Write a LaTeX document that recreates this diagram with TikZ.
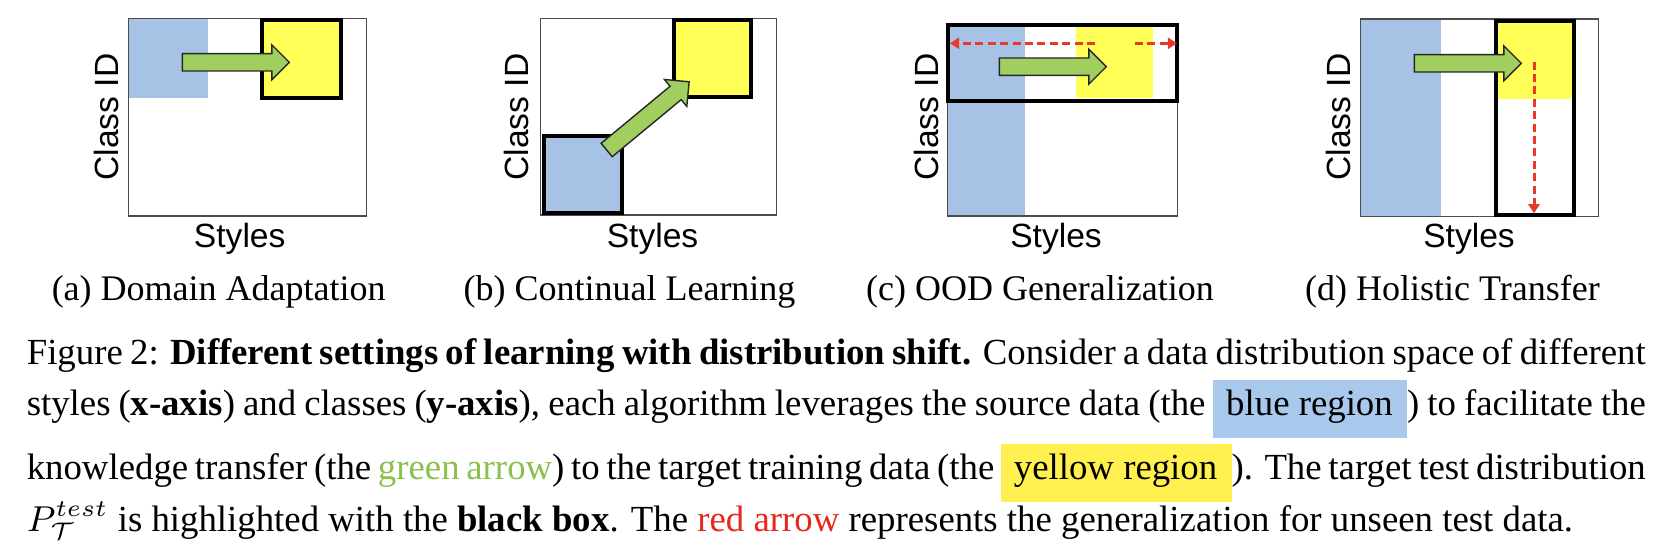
\documentclass[tikz,border=0pt]{standalone}
\usepackage{fontspec}
\usepackage{xcolor}
\usepackage{tikz}
\usetikzlibrary{arrows,arrows.meta}
\setmainfont{Liberation Serif}
\newfontfamily\axisfont{Liberation Sans}

\definecolor{srcblue}{RGB}{166,194,228}
\definecolor{tgtyellow}{RGB}{255,255,87}
\definecolor{xfergreen}{RGB}{160,207,96}
\definecolor{genred}{RGB}{232,57,43}
\definecolor{hlblue}{RGB}{168,200,236}
\definecolor{hlyellow}{RGB}{255,240,80}
\definecolor{txtgreen}{RGB}{139,192,76}
\definecolor{txtred}{RGB}{232,38,28}

% green block arrow: start x, start y, angle
\newcommand{\xferarrow}[3]{%
  \draw[xfer,shift={(#1,#2)},rotate=#3] (0,-8.7) -- (89.5,-8.7) -- (89.5,-17.5)
      -- (107,0) -- (89.5,17.5) -- (89.5,8.7) -- (0,8.7) -- cycle;}
\newcommand{\hlbox}[2]{{\setlength{\fboxsep}{0pt}%
  \colorbox{#1}{\rule[-5.5pt]{0pt}{14.5pt}\hspace{3.2pt}#2\hspace{3.6pt}}}}

\begin{document}
\begin{tikzpicture}[x=0.25pt,y=-0.25pt,
    frame/.style={draw=black!70,line width=0.3pt},
    testbox/.style={draw=black,line width=1pt},
    xfer/.style={fill=xfergreen,draw=black!85,line width=0.35pt},
    gen/.style={genred,line width=0.75pt,dash pattern=on 2pt off 1.1pt},
    axlabel/.style={font=\axisfont\fontsize{8.4}{10}\selectfont,inner sep=0pt},
    subcap/.style={font=\fontsize{9}{11}\selectfont,anchor=base,inner sep=0pt},
    capline/.style={font=\fontsize{9.2}{11}\selectfont,anchor=base west,inner sep=0pt}]
\useasboundingbox (0,0) rectangle (1654,556);

% (a) domain adaptation
\fill[srcblue] (128.3,18.3) rectangle (208.3,98.3);
\draw[frame] (128.3,18.3) rectangle (366.7,216);
\draw[testbox,fill=tgtyellow] (262,20.3) rectangle (340.7,98);
\xferarrow{182.3}{62.3}{0}
\node[axlabel,rotate=90] (clsA) at (106.7,117) {Class ID};
\node[axlabel,anchor=base] (styA) at (239.7,248) {Styles};
\node[subcap] (capA) at (218.7,301) {(a) Domain Adaptation};

% (b) continual learning
\draw[frame] (540.7,18.3) rectangle (776.7,215);
\draw[testbox,fill=srcblue] (543.7,136.3) rectangle (622,213);
\draw[testbox,fill=tgtyellow] (674.3,20.3) rectangle (751.3,97.3);
\xferarrow{606.7}{150}{39.6}
\node[axlabel,rotate=90] (clsB) at (516.7,117) {Class ID};
\node[axlabel,anchor=base] (styB) at (652.5,248) {Styles};
\node[subcap] (capB) at (629.5,301) {(b) Continual Learning};

% (c) OOD generalization
\fill[srcblue] (947.3,24.7) rectangle (1025,216);
\fill[tgtyellow] (1076,24.7) rectangle (1153.3,98.3);
\draw[frame] (947.3,24.7) rectangle (1177.5,216);
\draw[testbox] (948,24.7) rectangle (1176.5,100.7);
\coordinate (genC1) at (1095,43.3);
\coordinate (genC2) at (950,43.3);
\coordinate (genC3) at (1135,43.3);
\coordinate (genC4) at (1177,43.3);
\begin{scope}[>={Triangle[length=2.3pt,width=2.8pt]}]
    \draw[gen,->] (genC1) -- (genC2);
    \draw[gen,->] (genC3) -- (genC4);
\end{scope}
\xferarrow{999.3}{66.7}{0}
\node[axlabel,rotate=90] (clsC) at (926.7,117) {Class ID};
\node[axlabel,anchor=base] (styC) at (1056,248) {Styles};
\node[subcap] (capC) at (1040,301) {(c) OOD Generalization};

% (d) holistic transfer
\fill[srcblue] (1360.7,19) rectangle (1440.7,216.7);
\fill[tgtyellow] (1496,21) rectangle (1574,99.3);
\draw[frame] (1360.7,19) rectangle (1598.3,216.7);
\draw[testbox] (1496.3,21) rectangle (1574,214.7);
\coordinate (genD1) at (1534,61.7);
\coordinate (genD2) at (1534,213.3);
\begin{scope}[>={Triangle[length=2.3pt,width=2.8pt]}]
    \draw[gen,->] (genD1) -- (genD2);
\end{scope}
\xferarrow{1414.3}{63.3}{0}
\node[axlabel,rotate=90] (clsD) at (1338.3,117) {Class ID};
\node[axlabel,anchor=base] (styD) at (1469,248) {Styles};
\node[subcap] (capD) at (1452.5,301) {(d) Holistic Transfer};

% caption
\node[capline] (cap1) at (26,365) {\makebox[404.75pt][s]{Figure 2: \textbf{Different settings of learning with distribution shift.} Consider a data distribution space of different}};
\node[capline] (cap2) at (26,416) {\makebox[404.75pt][s]{styles (\textbf{x-axis}) and classes (\textbf{y-axis}), each algorithm leverages the source data (the \hlbox{hlblue}{blue region}) to facilitate the}};
\node[capline] (cap3) at (26,480) {\makebox[404.75pt][s]{knowledge transfer (the \textcolor{txtgreen}{green arrow}) to the target training data (the \hlbox{hlyellow}{yellow region}). The target test distribution}};
\node[capline] (cap4) at (26,532) {$P_{\mathcal{T}}^{test}$ is highlighted with the \textbf{black box}. The \textcolor{txtred}{red arrow} represents the generalization for unseen test data.};
\end{tikzpicture}
\end{document}
